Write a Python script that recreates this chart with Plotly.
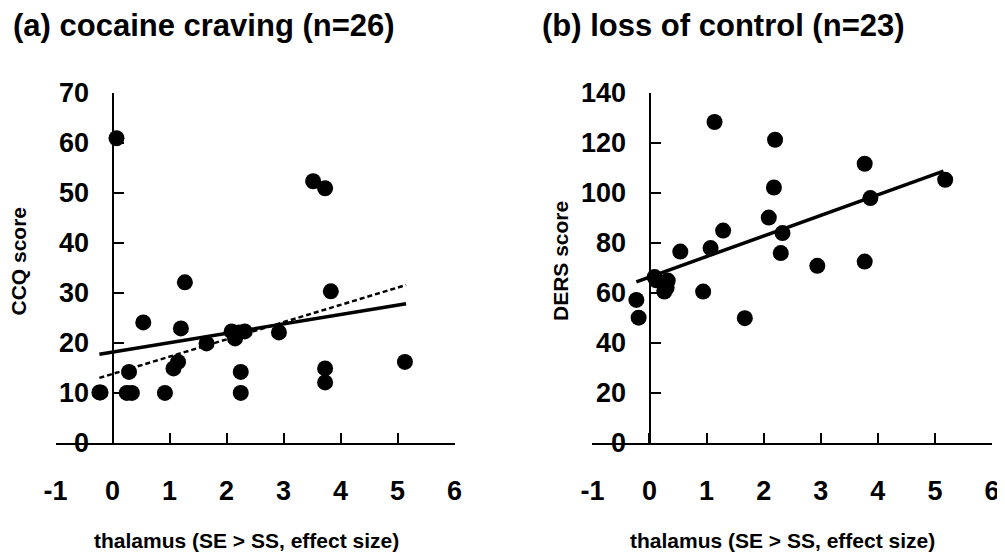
import plotly.graph_objects as go

# ---------------- data ----------------
# (a) cocaine craving (n=26)
a_thal = [0.07, -0.23, -0.21, 0.25, 0.34, 0.29, 0.54, 0.92, 1.07, 1.15, 1.20, 1.27,
          1.65, 2.09, 2.15, 2.32, 2.22, 2.25, 2.25, 2.92, 3.52, 3.73, 3.73, 3.73, 3.83, 5.13]
a_ccq = [60.9, 10.1, 10.1, 10.0, 10.0, 14.2, 24.1, 10.0, 14.9, 16.2, 22.9, 32.1,
         19.9, 22.3, 20.9, 22.3, 22.1, 14.2, 10.0, 22.1, 52.3, 50.9, 14.9, 12.1, 30.3, 16.2]
a_fit_solid = (18.15, 1.88)   # intercept, slope
a_fit_dash = (13.8, 3.45)

# (b) loss of control (n=23)
b_thal = [-0.23, -0.19, 0.09, 0.32, 0.26, 0.30, 0.94, 0.54, 1.07, 1.14, 1.29, 1.67,
          2.09, 2.18, 2.20, 2.33, 2.30, 2.94, 3.77, 3.87, 3.77, 5.18, 0.12]
b_ders = [57.2, 50.1, 66.3, 64.9, 60.5, 62.0, 60.5, 76.5, 77.9, 128.3, 84.9, 49.9,
          90.1, 102.1, 121.2, 83.9, 75.9, 70.8, 111.6, 97.9, 72.5, 105.2, 65.0]
b_fit = (66.3, 8.22)

fit_x_range = [-0.23, 5.15]

x_tick_vals = [-1, 0, 1, 2, 3, 4, 5, 6]
x_tick_text = ["-1", "0", "1", "2", "3", "4", "5", "6"]

titles = ["(a) cocaine craving (n=26)", "(b) loss of control (n=23)"]
y_titles = ["CCQ score", "DERS score"]
x_title = "thalamus (SE > SS, effect size)"

# ---------------- figure ----------------
# the page body has an 8px margin, so the figure is drawn 8px in from the window corner
OFF = 8
W, H = 1005 - OFF, 552 - OFF
FONT = "Liberation Sans, Arial, Helvetica, sans-serif"


def px(x):   # window pixel -> paper x
    return (x - OFF) / W


def py(y):   # window pixel (from top) -> paper y
    return (H - (y - OFF)) / H


def line_y(fit, xs):
    return [fit[0] + fit[1] * x for x in xs]


fig = go.Figure()
mk = dict(color="black", size=16, line=dict(width=0))

fig.add_trace(go.Scatter(x=a_thal, y=a_ccq, mode="markers", marker=mk,
                         xaxis="x", yaxis="y", showlegend=False, cliponaxis=False))
fig.add_trace(go.Scatter(x=fit_x_range, y=line_y(a_fit_dash, fit_x_range), mode="lines",
                         line=dict(color="black", width=2.5, dash="5px,3px"),
                         xaxis="x", yaxis="y", showlegend=False))
fig.add_trace(go.Scatter(x=fit_x_range, y=line_y(a_fit_solid, fit_x_range), mode="lines",
                         line=dict(color="black", width=3.5),
                         xaxis="x", yaxis="y", showlegend=False))

fig.add_trace(go.Scatter(x=b_thal, y=b_ders, mode="markers", marker=mk,
                         xaxis="x2", yaxis="y2", showlegend=False, cliponaxis=False))
fig.add_trace(go.Scatter(x=fit_x_range, y=line_y(b_fit, fit_x_range), mode="lines",
                         line=dict(color="black", width=3.5),
                         xaxis="x2", yaxis="y2", showlegend=False))

tickfont = dict(family=FONT, size=27, color="black", weight="bold")
common_axis = dict(showgrid=False, zeroline=False, showline=True, linewidth=2,
                   linecolor="black", ticks="inside", ticklen=10, tickwidth=2,
                   tickcolor="black", tickfont=tickfont, automargin=False)

y_dom = [py(443), py(92.7)]

fig.update_layout(
    width=W, height=H,
    margin=dict(l=0, r=0, t=0, b=0, autoexpand=False),
    paper_bgcolor="white", plot_bgcolor="rgba(0,0,0,0)",
    xaxis=dict(domain=[px(55.5), px(454.5)], range=[-1, 6], anchor="y",
               tickmode="array", tickvals=x_tick_vals, ticktext=x_tick_text,
               ticklabelstandoff=23, **common_axis),
    yaxis=dict(domain=y_dom, range=[0, 70], dtick=10, anchor="free",
               position=px(112.5), ticklabelstandoff=17, **common_axis),
    xaxis2=dict(domain=[px(592.4), px(992)], range=[-1, 6], anchor="y2",
                tickmode="array", tickvals=x_tick_vals, ticktext=x_tick_text,
                ticklabelstandoff=23, **common_axis),
    yaxis2=dict(domain=y_dom, range=[0, 140], dtick=20, anchor="free",
                position=px(649.5), ticklabelstandoff=17, **common_axis),
)

ann_title_font = dict(family=FONT, size=31, color="black", weight="bold")
ann_axis_font = dict(family=FONT, size=21, color="black", weight="bold")
annotations = [
    dict(text=titles[0], x=px(11), y=py(25), xanchor="left", yanchor="middle"),
    dict(text=titles[1], x=px(540), y=py(25), xanchor="left", yanchor="middle"),
]
for a in annotations:
    a.update(xref="paper", yref="paper", showarrow=False, font=ann_title_font)

axis_anns = [
    dict(text=x_title, x=px(246), y=py(540), textangle=0),
    dict(text=x_title, x=px(782), y=py(540), textangle=0),
    dict(text=y_titles[0], x=px(17.5), y=py(261), textangle=-90),
    dict(text=y_titles[1], x=px(560), y=py(261), textangle=-90),
]
for a in axis_anns:
    a.update(xref="paper", yref="paper", showarrow=False, font=ann_axis_font,
             xanchor="center", yanchor="middle")

fig.update_layout(annotations=annotations + axis_anns)

fig.write_html("out.html")
